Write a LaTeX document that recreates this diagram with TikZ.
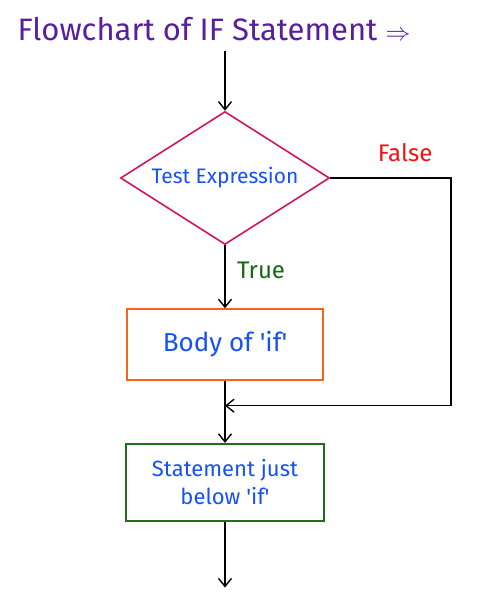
\documentclass[tikz,border=0pt]{standalone}
\usepackage{fontspec}
\setmainfont{Fira Sans}
\usepackage{tikz}
\usetikzlibrary{arrows.meta, calc, positioning, shapes.geometric}
\usepackage{xcolor}
\definecolor{titlepurple}{RGB}{88,30,160}
\definecolor{textblue}{RGB}{22,80,250}
\definecolor{crimson}{RGB}{210,20,100}
\definecolor{boxorange}{RGB}{250,100,20}
\definecolor{boxgreen}{RGB}{30,110,30}
\definecolor{truegreen}{RGB}{20,105,20}
\definecolor{falsered}{RGB}{240,20,20}
\newcommand{\sq}{\textquotesingle}

\begin{document}
\begin{tikzpicture}[
    x=1pt, y=-1pt,
    node distance=63pt,
    decision/.style={diamond, draw=crimson, line width=1.6pt, aspect=1.57, minimum width=209pt, minimum height=133pt, inner sep=0pt, text=textblue, font=\fontsize{21}{24}\selectfont},
    block/.style={draw, line width=1.6pt, align=center, text=textblue},
    arrow/.style={-{Straight Barb[length=8pt, width=13pt]}, line width=1.4pt},
    lbl/.style={font=\fontsize{24}{26}\selectfont}
]
\useasboundingbox (0,0) rectangle (488,600);

% Nodes
\node[anchor=base west, text=titlepurple, font=\fontsize{31}{34}\selectfont] (title) at (14,40) {Flowchart of IF Statement $\Rightarrow$};
\node[decision] (test) at (225,178) {Test Expression};
\node[block, draw=boxorange, minimum width=196pt, minimum height=71pt, font=\fontsize{26}{28}\selectfont] (body) [below=of test] {Body of \sq if\sq};
\node[block, draw=boxgreen, minimum width=198pt, minimum height=77pt, font=\fontsize{22}{28}\selectfont] (stmt) [below=62pt of body] {Statement just\\ below \sq if\sq};
\coordinate[above=60pt of test.north] (start);
\coordinate[below=66pt of stmt] (stop);
\coordinate (join) at ($(body.south)!0.4!(stmt.north)$);
\coordinate (fx) at (451,0);

% Arrows
\draw[arrow] (start) -- (test.north);
\draw[arrow] (test.south) -- node[pos=0.4, right=8pt, lbl, text=truegreen] {True} (body.north);
\draw[arrow] (test.east) -- node[pos=0.62, above=12pt, lbl, text=falsered] {False} (test.east -| fx) |- (join);
\draw[arrow] (body.south) -- (stmt.north);
\draw[arrow] (stmt.south) -- (stop);

\end{tikzpicture}
\end{document}
